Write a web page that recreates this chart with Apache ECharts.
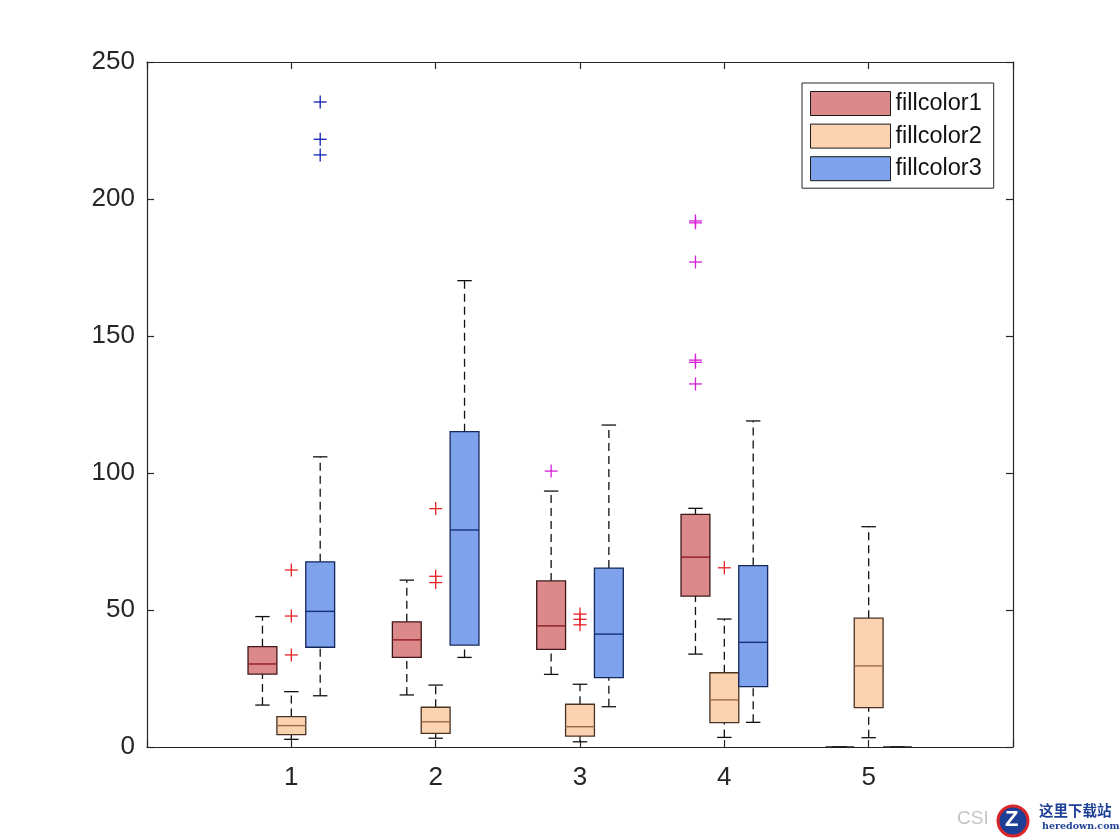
<!DOCTYPE html>
<html>
<head>
<meta charset="utf-8">
<title>boxplot fillcolor</title>
<script src="https://cdn.jsdelivr.net/npm/echarts@6/dist/echarts.min.js"></script>
<style>
  html, body { margin: 0; padding: 0; background: #fff; }
  #chart { width: 1120px; height: 840px; }
</style>
</head>
<body>
<div id="chart"></div>
<script>
// data: [min, q1, median, q3, max] per category
const categories = [1, 2, 3, 4, 5];
const seriesNames = ["fillcolor1", "fillcolor2", "fillcolor3"];
const fill1Stats = [
  [15.3, 26.6, 30.3, 36.6, 47.6],
  [19.0, 32.7, 39.1, 45.7, 60.9],
  [26.5, 35.6, 44.2, 60.6, 93.4],
  [33.9, 55.1, 69.3, 84.9, 87.1],
  [0, 0, 0, 0, 0]
];
const fill2Stats = [
  [2.8, 4.5, 7.8, 11.1, 20.2],
  [3.2, 5.0, 9.2, 14.5, 22.6],
  [1.9, 4.0, 7.4, 15.6, 22.9],
  [3.5, 8.9, 17.2, 27.1, 46.7],
  [3.4, 14.4, 29.6, 47.0, 80.4]
];
const fill3Stats = [
  [18.7, 36.4, 49.5, 67.6, 105.9],
  [32.7, 37.2, 79.2, 115.1, 170.2],
  [14.7, 25.3, 41.2, 65.3, 117.5],
  [9.0, 22.0, 38.2, 66.2, 119.0],
  [0, 0, 0, 0, 0]
];
// outliers: [category, value]
const redOutliers = [
  [1, 64.6], [1, 47.8], [1, 33.6],
  [2, 87.0], [2, 62.3], [2, 60.0],
  [3, 48.5], [3, 46.6], [3, 44.6],
  [4, 65.4]
];
const magentaOutliers = [
  [3, 100.7],
  [4, 192.0], [4, 191.3], [4, 177.0], [4, 141.2], [4, 140.4], [4, 132.5]
];
const blueOutliers = [[1, 235.4], [1, 221.8], [1, 216.1]];
const yTicks = [0, 50, 100, 150, 200, 250];

const BOX_W = 0.2;
const CAP_W = 0.1;
const SLOT = { left: -0.2, mid: 0, right: 0.2 };
const INK = "#262626";
const FONT = "'Liberation Sans', Arial, Helvetica, sans-serif";

const styles = [
  { fill: "#DC898C", edge: "#3E1818", med: "#8E1C20" },
  { fill: "#FCD3B1", edge: "#4A3222", med: "#9A6A44" },
  { fill: "#7FA2EC", edge: "#14285A", med: "#14307A" }
];

function toRows(stats) {
  return stats.map((s, i) => [categories[i]].concat(s));
}

function boxRenderer(offset, st) {
  return function (params, api) {
    const x = api.value(0) + offset;
    const p = [1, 2, 3, 4, 5].map(k => api.coord([x, api.value(k)]));
    const cx = p[0][0];
    const hw = api.size([BOX_W, 0])[0] / 2;
    const hc = api.size([CAP_W, 0])[0] / 2;
    const dash = { stroke: "#111", lineWidth: 1.3, lineDash: [8, 5] };
    const solid = { stroke: "#111", lineWidth: 1.3 };
    const flat = p[1][1] - p[3][1] < 0.5;
    const kids = [
      { type: "line", shape: { x1: cx, y1: p[3][1], x2: cx, y2: p[4][1] }, style: dash },
      { type: "line", shape: { x1: cx, y1: p[0][1], x2: cx, y2: p[1][1] }, style: dash },
      { type: "line", shape: { x1: cx - hc, y1: p[4][1], x2: cx + hc, y2: p[4][1] }, style: solid },
      { type: "line", shape: { x1: cx - hc, y1: p[0][1], x2: cx + hc, y2: p[0][1] }, style: solid },
      {
        type: "rect",
        shape: { x: cx - hw, y: p[3][1], width: hw * 2, height: p[1][1] - p[3][1] },
        style: { fill: st.fill, stroke: flat ? "#222" : st.edge, lineWidth: flat ? 1.4 : 1.3 }
      }
    ];
    if (!flat) {
      kids.push({ type: "line", shape: { x1: cx - hw, y1: p[2][1], x2: cx + hw, y2: p[2][1] }, style: { stroke: st.med, lineWidth: 1.4 } });
    }
    return { type: "group", children: kids };
  };
}

function plusRenderer(offset, color) {
  return function (params, api) {
    const c = api.coord([api.value(0) + offset, api.value(1)]);
    const r = 6.5;
    const st = { stroke: color, lineWidth: 1.3 };
    return {
      type: "group",
      children: [
        { type: "line", shape: { x1: c[0] - r, y1: c[1], x2: c[0] + r, y2: c[1] }, style: st },
        { type: "line", shape: { x1: c[0], y1: c[1] - r, x2: c[0], y2: c[1] + r }, style: st }
      ]
    };
  };
}

const boxSets = [fill1Stats, fill2Stats, fill3Stats];
const boxOffsets = [SLOT.left, SLOT.mid, SLOT.right];

const series = seriesNames.map((name, i) => ({
  name: name,
  type: "custom",
  renderItem: boxRenderer(boxOffsets[i], styles[i]),
  itemStyle: { color: styles[i].fill, borderColor: "#000", borderWidth: 1 },
  encode: { x: 0, y: [1, 2, 3, 4, 5] },
  data: toRows(boxSets[i]),
  z: 2
}));

series.push(
  { name: "outRed", type: "custom", renderItem: plusRenderer(SLOT.mid, "#E8222A"), encode: { x: 0, y: 1 }, data: redOutliers, z: 3 },
  { name: "outMagenta", type: "custom", renderItem: plusRenderer(SLOT.left, "#D81FD8"), encode: { x: 0, y: 1 }, data: magentaOutliers, z: 3 },
  { name: "outBlue", type: "custom", renderItem: plusRenderer(SLOT.right, "#1020B8"), encode: { x: 0, y: 1 }, data: blueOutliers, z: 3 }
);

const axisCommon = {
  axisLine: { show: true, onZero: false, lineStyle: { color: INK, width: 1.2 } },
  axisTick: { show: true, inside: true, length: 7, lineStyle: { color: INK, width: 1.2 } },
  splitLine: { show: false }
};

const option = {
  backgroundColor: "#fff",
  animation: false,
  grid: { left: 147, right: 107, top: 62, bottom: 93 },
  legend: {
    data: seriesNames.map((n, i) => ({
      name: n,
      icon: "rect",
      itemStyle: { color: styles[i].fill, borderColor: "#1a1a1a", borderWidth: 1 }
    })),
    orient: "vertical",
    left: 802,
    top: 83,
    itemWidth: 80,
    itemHeight: 24,
    itemGap: 7.6,
    padding: [8, 12, 7, 8],
    borderColor: INK,
    borderWidth: 1,
    backgroundColor: "#fff",
    selectedMode: false,
    textStyle: { fontSize: 23.5, color: "#111", fontFamily: FONT, padding: [0, 0, 0, 0] }
  },
  xAxis: [
    Object.assign({
      type: "value", position: "bottom", min: 0, max: 6, interval: 1,
      axisLabel: {
        margin: 18, fontSize: 26, color: INK, fontFamily: FONT,
        formatter: v => categories.includes(v) ? String(v) : ""
      }
    }, axisCommon),
    Object.assign({
      type: "value", position: "top", min: 0, max: 6, interval: 1,
      axisLabel: { show: false }
    }, axisCommon)
  ],
  yAxis: [
    Object.assign({
      type: "value", position: "left", min: yTicks[0], max: yTicks[yTicks.length - 1], interval: 50,
      axisLabel: { margin: 12, fontSize: 26, color: INK, fontFamily: FONT, padding: [5, 0, 0, 0] }
    }, axisCommon),
    Object.assign({
      type: "value", position: "right", min: yTicks[0], max: yTicks[yTicks.length - 1], interval: 50,
      axisLabel: { show: false }
    }, axisCommon)
  ],
  series: series,
  graphic: [
    { type: "text", left: 957, top: 809, style: { text: "CSI", fontSize: 19, fill: "#c4c4c4", fontFamily: FONT } },
    { type: "circle", shape: { cx: 1013, cy: 821, r: 15 }, style: { fill: "#1d3f96", stroke: "#d8262a", lineWidth: 3 } },
    { type: "text", left: 1005, top: 809, style: { text: "Z", fontSize: 22, fontWeight: "bold", fill: "#fff", fontFamily: FONT } },
    { type: "text", left: 1039, top: 803, style: { text: "这里下载站", fontSize: 14.5, fontWeight: "bold", fill: "#1d3f96", fontFamily: "'Noto Sans CJK SC', sans-serif" } },
    { type: "text", left: 1042, top: 822, style: { text: "heredown.com", fontSize: 9.5, fontWeight: "bold", fill: "#1d3f96", fontFamily: "'DejaVu Serif', serif" } }
  ]
};

const chart = echarts.init(document.getElementById("chart"));
chart.setOption(option);
</script>
</body>
</html>
